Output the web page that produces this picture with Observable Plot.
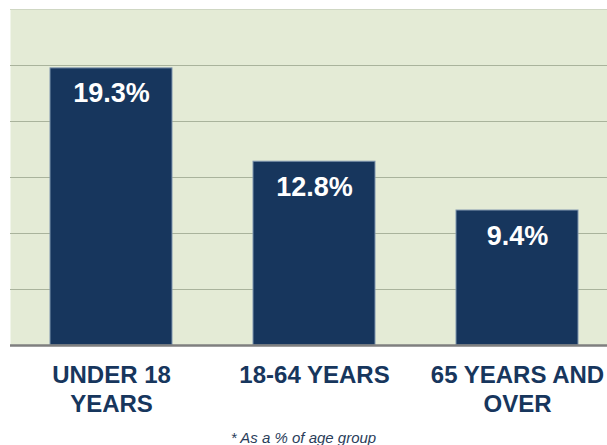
<!DOCTYPE html>
<html>
<head>
<meta charset="utf-8">
<script src="https://cdn.jsdelivr.net/npm/d3@7"></script>
<script src="https://cdn.jsdelivr.net/npm/@observablehq/plot@0.6"></script>
<style>
  html, body { margin: 0; padding: 0; background: #ffffff; }
  #chart { width: 607px; }
  #chart svg { display: block; }
  .note {
    width: 607px; text-align: center; font-family: "Liberation Sans", Arial, sans-serif;
    font-style: italic; font-size: 15px; line-height: 15px; color: #2a3d5a; margin: 0;
  }
</style>
</head>
<body>
<div id="chart"></div>
<p class="note">* As a % of age group</p>
<script>
// Data
const categories = ["UNDER 18\nYEARS", "18-64 YEARS", "65 YEARS AND\nOVER"];
const values = [19.3, 12.8, 9.4];
const gridTicks = [3.9, 7.8, 11.7, 15.6, 19.5];
const topTick = [23.4];
const yDomain = [0, 23.4];

const data = categories.map((c, i) => ({category: c, value: values[i]}));
const font = "'Liberation Sans', Arial, Helvetica, sans-serif";

const chart = Plot.plot({
  width: 607,
  height: 430,
  marginLeft: 10,
  marginRight: 0,
  marginTop: 9,
  marginBottom: 85,
  style: {fontFamily: font, background: "#ffffff"},
  x: {domain: categories, range: [10, 619.4], paddingInner: 0.397, paddingOuter: 0.198, axis: null},
  y: {domain: yDomain, axis: null},
  marks: [
    Plot.frame({fill: "#e4ebd6", stroke: null}),
    Plot.gridY(gridTicks, {stroke: "#a9b39c", strokeOpacity: 1, strokeWidth: 1}),
    Plot.gridY(topTick, {stroke: "#cfd7c3", strokeOpacity: 1, strokeWidth: 1}),
    Plot.barY(data, {x: "category", y: "value", fill: "#17365d", stroke: "#7f95ae", strokeWidth: 1}),
    Plot.ruleY([0], {stroke: "#7f7f7f", strokeWidth: 2.7}),
    Plot.text(data, {
      x: "category", y: "value", text: d => d.value.toFixed(1) + "%",
      lineAnchor: "bottom", dy: 34, fill: "#ffffff", fontSize: 27, fontWeight: "bold"
    }),
    Plot.text(data, {
      x: "category", frameAnchor: "bottom", text: "category",
      lineAnchor: "top", lineHeight: 1.21, dy: 17, fill: "#17365d", fontSize: 24, fontWeight: "bold"
    })
  ]
});
document.getElementById("chart").appendChild(chart);
</script>
</body>
</html>
